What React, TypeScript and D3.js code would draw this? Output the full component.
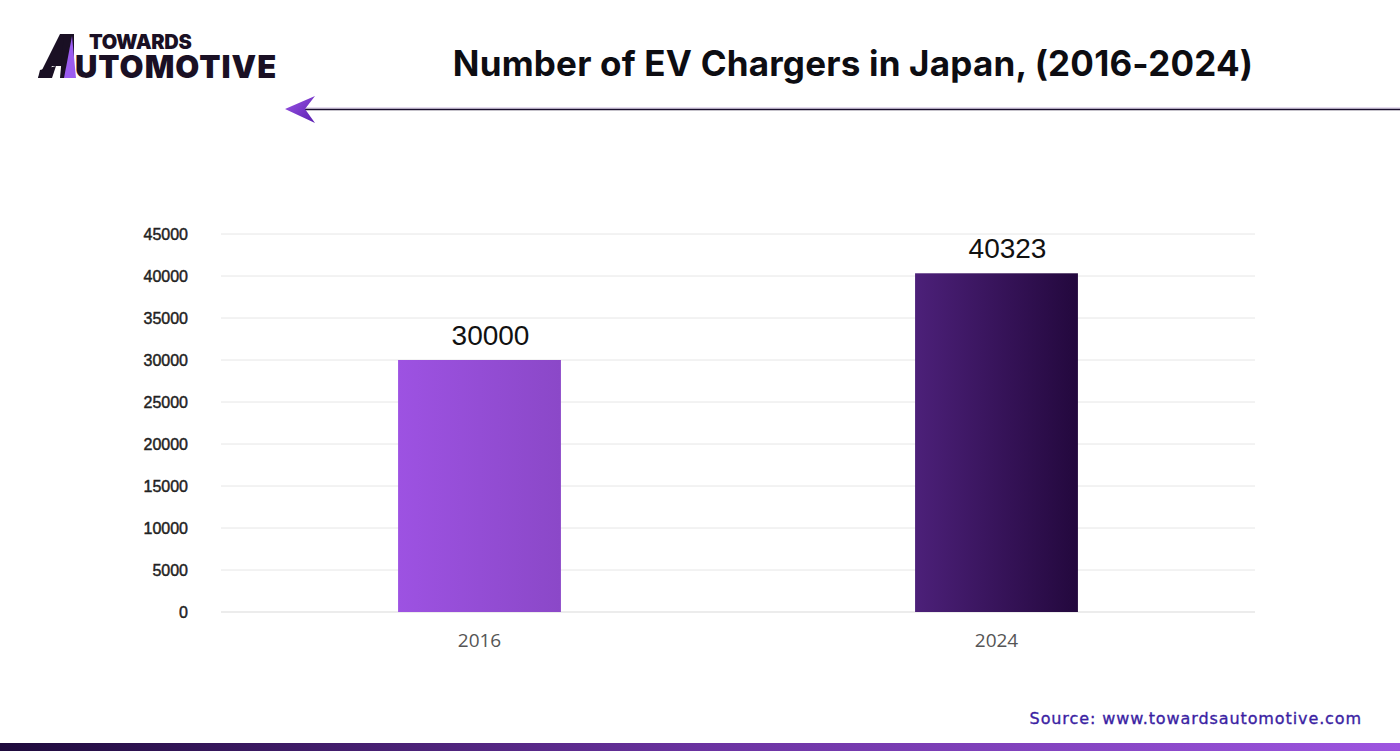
import React from "react";
import * as d3 from "d3";

const years = ["2016", "2024"];
const chargers = [30000, 40323];
const yTicks = [0, 5000, 10000, 15000, 20000, 25000, 30000, 35000, 40000, 45000];
const titleText = "Number of EV Chargers in Japan, (2016-2024)";
const sourceText = "Source: www.towardsautomotive.com";

const W = 1400;
const H = 751;
const plot = { left: 221, right: 1255, top: 234, bottom: 612 };

export default function App() {
  const x = d3.scaleBand<string>().domain(years).range([plot.left, plot.right]).padding(0);
  const y = d3.scaleLinear().domain([0, 45000]).range([plot.bottom, plot.top]);
  const barW = x.bandwidth() * 0.315;

  const gradIds = ["barGrad0", "barGrad1"];

  return (
    <svg width={W} height={H} style={{ position: "absolute", left: 0, top: 0, background: "#fff" }}>
      <defs>
        <linearGradient id="barGrad0" x1="0" x2="1" y1="0" y2="0">
          <stop offset="0" stopColor="#9d52e2" />
          <stop offset="1" stopColor="#8b48c8" />
        </linearGradient>
        <linearGradient id="barGrad1" x1="0" x2="1" y1="0" y2="0">
          <stop offset="0" stopColor="#4c2079" />
          <stop offset="1" stopColor="#23083d" />
        </linearGradient>
        <linearGradient id="footGrad" x1="0" x2="1" y1="0" y2="0">
          <stop offset="0" stopColor="#1e0a3c" />
          <stop offset="0.5" stopColor="#6a32a0" />
          <stop offset="1" stopColor="#9d55e0" />
        </linearGradient>
        <linearGradient id="arrowGrad" x1="0" x2="1" y1="0" y2="1">
          <stop offset="0" stopColor="#9b55e6" />
          <stop offset="1" stopColor="#5a1fb0" />
        </linearGradient>
      </defs>

      {/* Logo */}
      <g>
        <path d="M38,78 L60,34 L72,34 L72,78 L62,78 L62,66 L52,66 L46,78 Z" fill="#1a1024" />
        <path d="M40,70 L56,66 L52,78 L38,78 Z" fill="#1a1024" />
        <path d="M64,34 L74,34 L74,78 L60,78 Z" fill="#1a1024" />
        <path d="M72,36 L76,78 L64,78 Z" fill="#9b5cf0" />
        <text x={89} y={49} fontFamily="Inter, 'DejaVu Sans', sans-serif" fontWeight={900} fontSize={20} fill="#1a1024" letterSpacing={-0.3}>TOWARDS</text>
        <text x={75} y={78} fontFamily="Inter, 'DejaVu Sans', sans-serif" fontWeight={900} fontSize={31} fill="#1a1024" letterSpacing={1}>UTOMOTIVE</text>
      </g>

      {/* Title */}
      <text x={853} y={76} textAnchor="middle" fontFamily="Inter, 'DejaVu Sans', sans-serif" fontWeight={700} fontSize={35} fill="#0d0d12" letterSpacing={0.2}>{titleText}</text>

      {/* Header line and arrow */}
      <line x1={300} x2={W} y1={108} y2={108} stroke="#cbb9de" strokeWidth={1} />
      <line x1={300} x2={W} y1={109.5} y2={109.5} stroke="#1a0f2e" strokeWidth={1.5} />
      <path d="M285,109 L315,96 L305,109 L315,123 Z" fill="url(#arrowGrad)" />

      {/* Gridlines */}
      {yTicks.map((t) => (
        <line key={"g" + t} x1={plot.left} x2={plot.right} y1={y(t)} y2={y(t)} stroke={t === 0 ? "#d9d9d9" : "#e6e6e6"} strokeWidth={1} />
      ))}

      {/* Y tick labels */}
      {yTicks.map((t) => (
        <text key={"t" + t} x={188} y={y(t) + 5.5} textAnchor="end" fontFamily="'Liberation Sans', Arial, sans-serif" fontWeight={400} fontSize={16} fill="#222" stroke="#222" strokeWidth={0.45}>{t}</text>
      ))}

      {/* Bars */}
      {years.map((yr, i) => {
        const cx = (x(yr) as number) + x.bandwidth() / 2;
        return (
          <g key={yr}>
            <rect x={cx - barW / 2} y={y(chargers[i])} width={barW} height={plot.bottom - y(chargers[i])} fill={`url(#${gradIds[i]})`} />
            <text x={cx + 11} y={y(chargers[i]) - 15} textAnchor="middle" fontFamily="'Liberation Sans', Arial, sans-serif" fontSize={28} fill="#111">{chargers[i]}</text>
            <text x={cx} y={647} textAnchor="middle" fontFamily="'Open Sans', 'Noto Sans', sans-serif" fontSize={19} fill="#555">{yr}</text>
          </g>
        );
      })}

      {/* Source */}
      <text x={1362} y={724} textAnchor="end" fontFamily="'DejaVu Sans', 'Noto Sans', sans-serif" fontWeight={400} fontSize={16} fill="#3b1fa3" stroke="#3b1fa3" strokeWidth={0.35} letterSpacing={0.9}>{sourceText}</text>

      {/* Footer bar */}
      <rect x={0} y={743} width={W} height={8} fill="url(#footGrad)" />
    </svg>
  );
}
